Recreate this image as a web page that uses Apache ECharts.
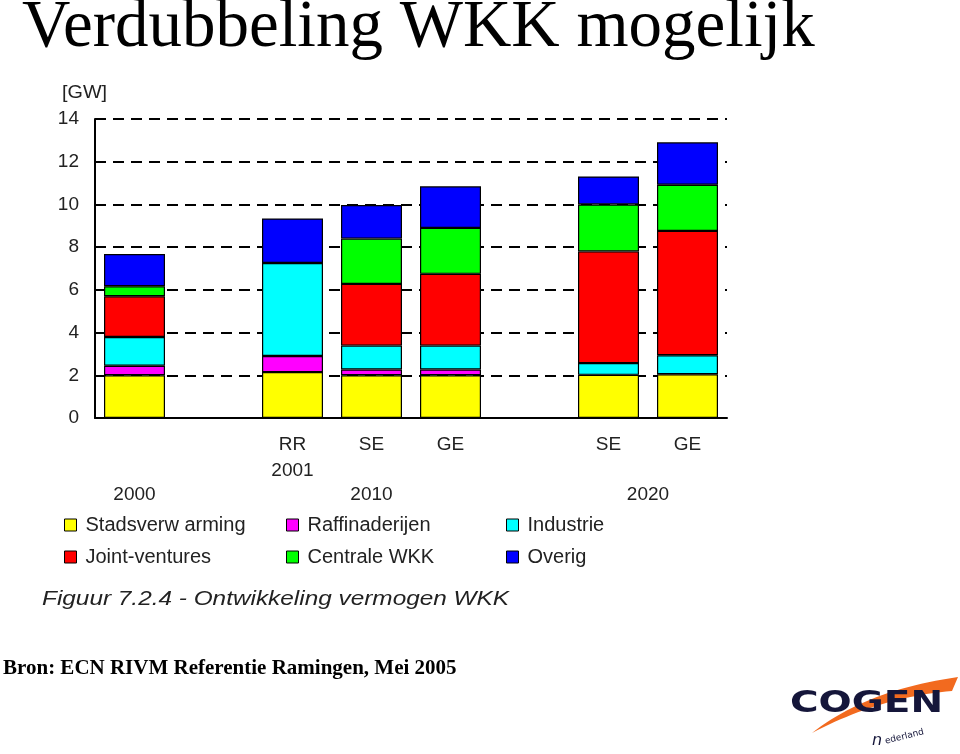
<!DOCTYPE html>
<html>
<head>
<meta charset="utf-8">
<script src="https://cdn.jsdelivr.net/npm/echarts@6/dist/echarts.min.js"></script>
<style>
html,body{margin:0;padding:0;background:#fff;}
#main{width:960px;height:754px;}
</style>
</head>
<body>
<div id="main"></div>
<script>
// ---- data ----
var slotLabels = ['', '', 'RR', 'SE', 'GE', '', 'SE', 'GE'];
var subLabels  = ['', '', '2001', '', '', '', '', ''];
var yearGroups = ['2000', '2010', '2020'];
var yearGroupCenters = [0, 3, 6.5];   // category index (slot) under which each year label sits

var seriesNames = ['Stadsverw arming', 'Raffinaderijen', 'Industrie', 'Joint-ventures', 'Centrale WKK', 'Overig'];
var stadsverwarming = [2.00, null, 2.15, 2.00, 2.00, null, 2.02, 2.05];
var raffinaderijen  = [0.45, null, 0.75, 0.27, 0.27, null, null, null];
var industrie       = [1.34, null, 4.36, 1.12, 1.12, null, 0.55, 0.89];
var jointVentures   = [1.91, null, null, 2.89, 3.36, null, 5.23, 5.82];
var centraleWKK     = [0.47, null, null, 2.12, 2.15, null, 2.20, 2.16];
var overig          = [1.51, null, 2.08, 1.57, 1.95, null, 1.31, 1.99];
var yTicks = [0, 14, 2]; // min, max, interval
var yUnit = '[GW]';

// ---- chart ----
var colors = ['#FFFF00', '#FF00FF', '#00FFFF', '#FF0000', '#00FF00', '#0000FF'];
var values = [stadsverwarming, raffinaderijen, industrie, jointVentures, centraleWKK, overig];
var font = 'Liberation Sans, Arial, sans-serif';

var chart = echarts.init(document.getElementById('main'), null, {renderer: 'canvas'});

var series = seriesNames.map(function (n, i) {
  return {
    name: n, type: 'bar', stack: 'total', xAxisIndex: 0, yAxisIndex: 0,
    data: values[i], barWidth: 61,
    itemStyle: {color: colors[i], borderColor: '#000', borderWidth: 1.2},
    emphasis: {disabled: true}
  };
});

function legendCfg(names, left) {
  return {
    data: names, orient: 'vertical', left: left, top: 510, itemGap: 12,
    itemWidth: 12, itemHeight: 12, icon: 'rect',
    itemStyle: {borderColor: '#000', borderWidth: 1},
    textStyle: {fontFamily: font, fontSize: 20, color: '#222', padding: [0, 0, 0, 4]},
    selectedMode: false
  };
}

// logo swoosh outline (decoration): two quadratic curves
function quad(p0, p1, p2, n) {
  var pts = [];
  for (var k = 0; k <= n; k++) {
    var t = k / n, a = (1 - t) * (1 - t), b = 2 * (1 - t) * t, c = t * t;
    pts.push([a * p0[0] + b * p1[0] + c * p2[0], a * p0[1] + b * p1[1] + c * p2[1]]);
  }
  return pts;
}
var swoosh = quad([812, 733], [866, 690], [958, 677], 24).concat(quad([952, 691], [880, 697], [812, 733], 24));

var option = {
  animation: false,
  backgroundColor: '#fff',
  color: colors,
  grid: {left: 95, right: 233, top: 119, bottom: 336, containLabel: false},
  legend: [
    legendCfg([seriesNames[0], seriesNames[3]], 59),
    legendCfg([seriesNames[1], seriesNames[4]], 281),
    legendCfg([seriesNames[2], seriesNames[5]], 501)
  ],
  xAxis: [
    {
      type: 'category', data: slotLabels, position: 'bottom',
      axisLine: {show: true, onZero: false, lineStyle: {color: '#000', width: 2}},
      axisTick: {show: false},
      axisLabel: {interval: 0, margin: 17, fontFamily: font, fontSize: 19, color: '#222'}
    },
    {
      type: 'category', data: subLabels, position: 'bottom', offset: 26,
      axisLine: {show: false, onZero: false}, axisTick: {show: false},
      axisLabel: {interval: 0, margin: 17, fontFamily: font, fontSize: 19, color: '#222'}
    },
    {
      type: 'value', min: -0.5, max: 7.5, interval: 0.5, position: 'bottom', offset: 50,
      axisLine: {show: false, onZero: false}, axisTick: {show: false}, splitLine: {show: false},
      axisLabel: {
        margin: 17, fontFamily: font, fontSize: 19, color: '#222',
        showMinLabel: true, showMaxLabel: true,
        formatter: function (v) {
          for (var i = 0; i < yearGroupCenters.length; i++) {
            if (Math.abs(v - yearGroupCenters[i]) < 1e-6) return yearGroups[i];
          }
          return '';
        }
      }
    }
  ],
  yAxis: {
    type: 'value', min: yTicks[0], max: yTicks[1], interval: yTicks[2],
    axisLine: {show: true, onZero: false, lineStyle: {color: '#000', width: 2}},
    axisTick: {show: false},
    axisLabel: {margin: 16, fontFamily: font, fontSize: 19, color: '#222'},
    splitLine: {show: true, lineStyle: {color: '#000', width: 2, type: [11, 7]}}
  },
  series: series,
  graphic: [
    {type: 'text', x: 22, y: -5, style: {text: 'Verdubbeling WKK mogelijk', fontFamily: 'Liberation Serif, Times New Roman, serif', fontSize: 67, fill: '#000'}},
    {type: 'text', x: 62, y: 84, scaleX: 1.1, style: {text: yUnit, fontFamily: font, fontSize: 18, fill: '#222'}},
    {type: 'text', x: 42, y: 589, scaleX: 1.16, style: {text: 'Figuur 7.2.4 - Ontwikkeling vermogen WKK', fontFamily: font, fontStyle: 'italic', fontSize: 21, fill: '#222'}},
    {type: 'text', x: 3, y: 658, style: {text: 'Bron: ECN RIVM Referentie Ramingen, Mei 2005', fontFamily: 'Liberation Serif, Times New Roman, serif', fontWeight: 'bold', fontSize: 21, fill: '#000'}},
    {type: 'polygon', shape: {points: swoosh}, style: {fill: '#F26A1F'}},
    {type: 'text', x: 790, y: 689, scaleX: 1.3, style: {text: 'COGEN', fontFamily: 'DejaVu Sans, sans-serif', fontWeight: 'bold', fontSize: 30, fill: '#15163A'}},
    {type: 'text', x: 872, y: 733, style: {text: 'n', fontFamily: 'DejaVu Sans, sans-serif', fontStyle: 'italic', fontSize: 16, fill: '#15163A'}},
    {type: 'text', x: 884, y: 737, rotation: 0.24, originX: 0, originY: 0, style: {text: 'ederland', fontFamily: 'DejaVu Sans, sans-serif', fontSize: 9, fill: '#15163A'}}
  ]
};
chart.setOption(option);
</script>
</body>
</html>
